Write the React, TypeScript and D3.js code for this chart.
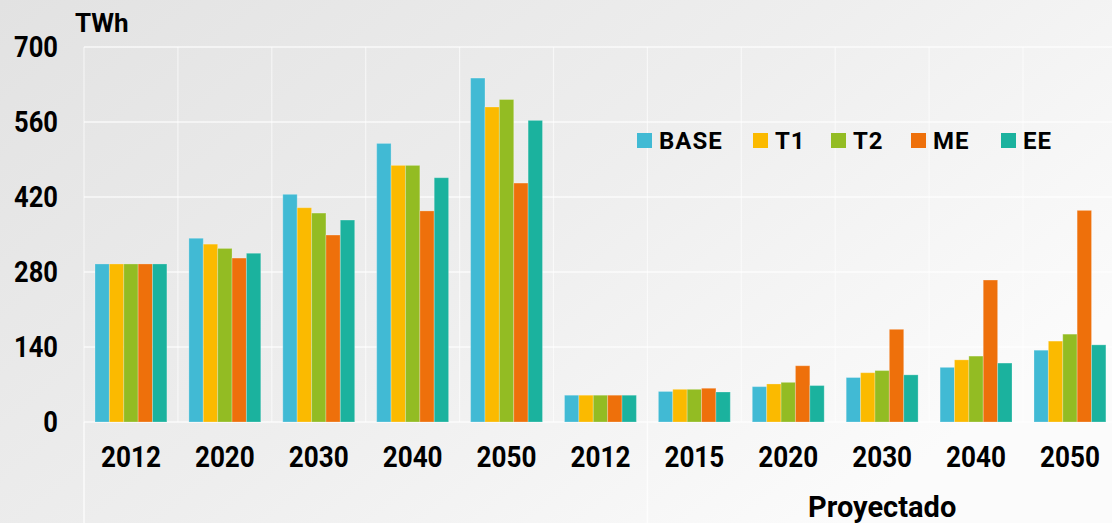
import React from "react";
import * as d3 from "d3";

const categories = ["2012", "2020", "2030", "2040", "2050", "2012", "2015", "2020", "2030", "2040", "2050"];
const seriesNames = ["BASE", "T1", "T2", "ME", "EE"];
const seriesColors = ["#41BAD4", "#FBBA00", "#93BC23", "#EE700B", "#1BB29E"];
const BASE = [295, 343, 425, 520, 642, 50, 57, 66, 83, 102, 134];
const T1 = [295, 332, 400, 479, 588, 50, 61, 71, 92, 116, 151];
const T2 = [295, 324, 390, 479, 602, 50, 61, 74, 96, 123, 164];
const ME = [295, 306, 349, 394, 446, 50, 63, 105, 173, 265, 395];
const EE = [295, 315, 377, 456, 563, 50, 56, 68, 88, 110, 144];
const yTicks = [0, 140, 280, 420, 560, 700];
const groupLabels = [
  { label: "", from: 0, to: 6 },
  { label: "Proyectado", from: 6, to: 11 },
];
const legendX = [637, 753, 831, 911, 1001];

const W = 1112;
const H = 523;
const FONT = "Roboto, 'DejaVu Sans', sans-serif";

export default function App() {
  const values = [BASE, T1, T2, ME, EE];
  const left = 84;
  const catW = 93.9;
  const x = d3
    .scaleBand<number>()
    .domain(d3.range(categories.length))
    .range([left, left + catW * categories.length])
    .paddingInner(0)
    .paddingOuter(0);
  const xs = d3.scaleBand<number>().domain(d3.range(seriesNames.length)).range([11, catW - 11]);
  const y = d3.scaleLinear().domain([0, 700]).range([422, 47]);
  const bw = x.bandwidth();

  return (
    <div style={{ position: "fixed", left: 0, top: 0, width: W, height: H }}>
      <svg width={W} height={H} style={{ display: "block" }}>
        <defs>
          <linearGradient id="bg" x1="0" y1="0" x2="1" y2="0.6">
            <stop offset="0" stopColor="#e2e2e2" />
            <stop offset="0.55" stopColor="#eeeeee" />
            <stop offset="1" stopColor="#fbfbfb" />
          </linearGradient>
        </defs>
        <rect x={0} y={0} width={W} height={H} fill="url(#bg)" />
        {yTicks.map((t) => (
          <line key={"h" + t} x1={left} x2={W} y1={y(t)} y2={y(t)} stroke="#ffffff" strokeOpacity={0.75} strokeWidth={1.5} />
        ))}
        {d3.range(categories.length + 1).map((i) => (
          <line
            key={"v" + i}
            x1={left + catW * i}
            x2={left + catW * i}
            y1={y(700)}
            y2={y(0)}
            stroke="#ffffff"
            strokeOpacity={0.6}
            strokeWidth={1.2}
          />
        ))}
        {groupLabels.map((g) => (
          <line
            key={"g" + g.from}
            x1={left + catW * g.from}
            x2={left + catW * g.from}
            y1={y(0)}
            y2={H}
            stroke="#ffffff"
            strokeOpacity={0.75}
            strokeWidth={1.5}
          />
        ))}
        {values.map((vals, s) =>
          vals.map((v, i) => (
            <rect
              key={s + "-" + i}
              x={(x(i) as number) + (xs(s) as number)}
              y={y(v)}
              width={xs.bandwidth()}
              height={y(0) - y(v)}
              fill={seriesColors[s]}
              stroke="#ffffff"
              strokeOpacity={0.25}
              strokeWidth={1}
            />
          ))
        )}
        {yTicks.map((t) => (
          <text
            key={"t" + t}
            transform={`translate(58,${y(t) + 10}) scale(0.88,1)`}
            textAnchor="end"
            fontFamily={FONT}
            fontWeight="bold"
            fontSize={29}
            fill="#000"
          >
            {t}
          </text>
        ))}
        <text x={75} y={32} fontFamily={FONT} fontWeight="bold" fontSize={26} fill="#000">
          TWh
        </text>
        {categories.map((c, i) => (
          <text
            key={"x" + i}
            transform={`translate(${(x(i) as number) + bw / 2},467) scale(0.9,1)`}
            textAnchor="middle"
            fontFamily={FONT}
            fontWeight="bold"
            fontSize={29}
            fill="#000"
          >
            {c}
          </text>
        ))}
        {groupLabels.map((g) =>
          g.label ? (
            <text
              key={"gl" + g.from}
              x={left + catW * ((g.from + g.to) / 2)}
              y={517}
              textAnchor="middle"
              fontFamily={FONT}
              fontWeight="bold"
              fontSize={29}
              fill="#000"
            >
              {g.label}
            </text>
          ) : null
        )}
        {seriesNames.map((n, s) => (
          <g key={"l" + n} transform={`translate(${legendX[s]},133)`}>
            <rect x={0} y={0} width={15} height={15} fill={seriesColors[s]} />
            <text x={22} y={16} fontFamily={FONT} fontWeight="bold" fontSize={24} letterSpacing={1} fill="#000">
              {n}
            </text>
          </g>
        ))}
      </svg>
    </div>
  );
}
